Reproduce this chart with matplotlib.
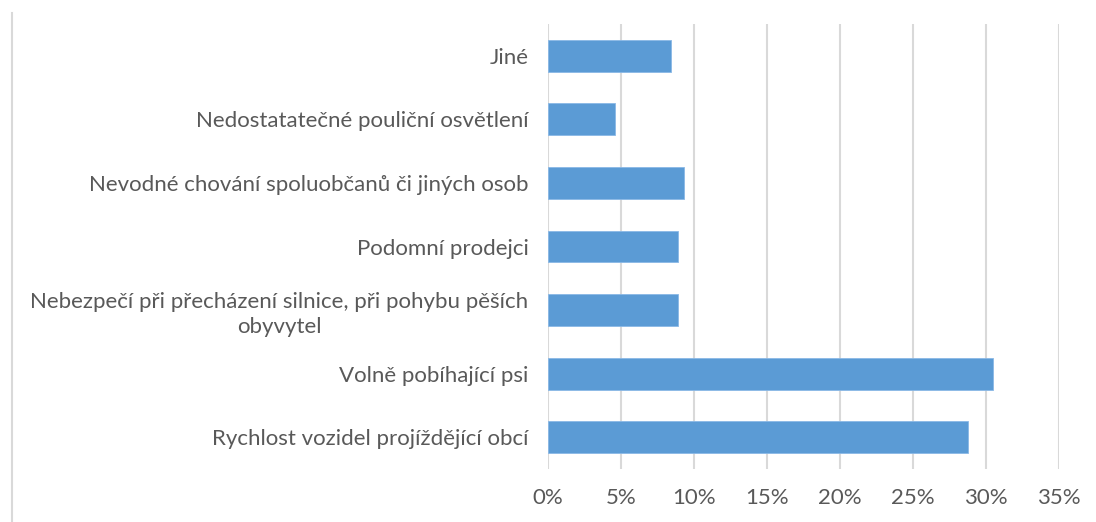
import numpy as np
import matplotlib.pyplot as plt
from matplotlib.lines import Line2D
from matplotlib.ticker import FuncFormatter

plt.rcParams['font.family'] = ['Lato', 'DejaVu Sans']

# kategorie odshora dolu
categories = [
    "Jiné",
    "Nedostatatečné pouliční osvětlení",
    "Nevodné chování spoluobčanů či jiných osob",
    "Podomní prodejci",
    "Nebezpečí při přecházení silnice, při pohybu pěších\nobyvytel",
    "Volně pobíhající psi",
    "Rychlost vozidel projíždějící obcí",
]
values = [8.4, 4.6, 9.3, 8.9, 8.9, 30.5, 28.8]
xticks = [0, 5, 10, 15, 20, 25, 30, 35]

fig = plt.figure(figsize=(10.96, 5.22), dpi=100)
ax = fig.add_axes([0.5, 0.1015, 0.4662, 0.8525])

y = np.arange(len(categories))[::-1]
ax.barh(y, values, height=0.5, color="#5B9BD5", edgecolor="#8AB8E6", linewidth=0.6, zorder=3)

ax.set_xlim(0, 35)
ax.set_ylim(-0.5, len(categories) - 0.5)
ax.set_xticks(xticks)
ax.xaxis.set_major_formatter(FuncFormatter(lambda v, p: "%d%%" % v))
ax.set_yticks(y)
ax.set_yticklabels(categories, multialignment="center", linespacing=1.3)
ax.tick_params(axis="x", length=0, pad=14, labelsize=16, labelcolor="#595959")
ax.tick_params(axis="y", length=0, pad=14, labelsize=16, labelcolor="#595959")
ax.grid(axis="x", color="#D9D9D9", linewidth=1.5, zorder=0)
for s in ax.spines.values():
    s.set_visible(False)

# okraj grafu vlevo
fig.add_artist(Line2D([12 / 1096, 12 / 1096], [0, 1 - 13 / 522], transform=fig.transFigure,
                      color="#D9D9D9", linewidth=1.5))

fig.savefig("out.png", dpi=100)
